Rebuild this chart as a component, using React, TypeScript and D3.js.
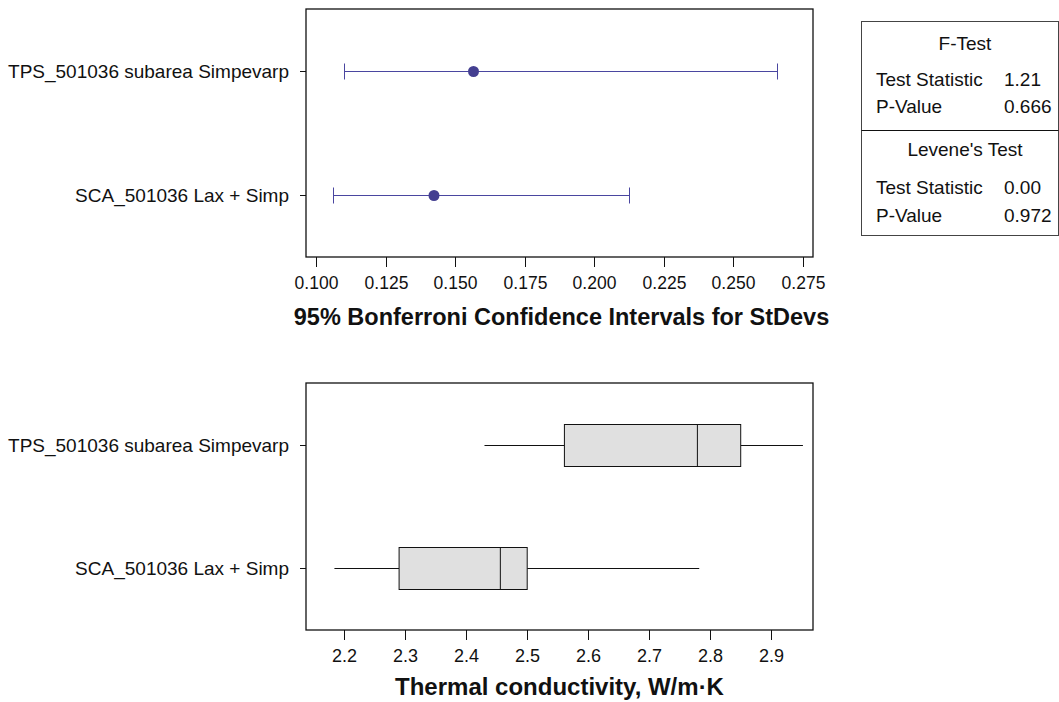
import * as d3 from 'd3';

const groups = ['TPS_501036 subarea Simpevarp', 'SCA_501036 Lax + Simp'];

// 95% Bonferroni CIs for StDev
const ciLower = [0.1102, 0.1062];
const sigma = [0.1566, 0.1424];
const ciUpper = [0.2657, 0.2125];
const ciTicks = [0.1, 0.125, 0.15, 0.175, 0.2, 0.225, 0.25, 0.275];

// boxplot of thermal conductivity
const whiskerLow = [2.43, 2.184];
const q1 = [2.561, 2.29];
const median = [2.779, 2.456];
const q3 = [2.85, 2.5];
const whiskerHigh = [2.952, 2.782];
const tcTicks = [2.2, 2.3, 2.4, 2.5, 2.6, 2.7, 2.8, 2.9];

const testRows = [
  { header: 'F-Test', stat: '1.21', p: '0.666' },
  { header: "Levene's Test", stat: '0.00', p: '0.972' },
];

const W = 1059;
const H = 702;
const font = '"Liberation Sans", Arial, Helvetica, sans-serif';
const ink = '#111';
const ciColor = '#4a46a0';
const dotColor = '#443f91';

const plotLeft = 306;
const plotRight = 813;

export default function App() {
  // top panel
  const topY0 = 9, topY1 = 257;
  const xCi = d3.scaleLinear().domain([0.09641, 0.27859]).range([plotLeft, plotRight]);
  const yTop = d3.scalePoint<string>().domain(groups).range([topY0, topY1]).padding(0.5);

  // bottom panel
  const botY0 = 383, botY1 = 630;
  const xTc = d3.scaleLinear().domain([2.1374, 2.9685]).range([plotLeft, plotRight]);
  const yBot = d3.scalePoint<string>().domain(groups).range([botY0, botY1]).padding(0.5);
  const boxHalf = 21;

  const fmt3 = d3.format('.3f');
  const fmt1 = d3.format('.1f');

  const yAxis = (y: d3.ScalePoint<string>) =>
    groups.map(g => (
      <g key={g} transform={`translate(${plotLeft},${Math.round(y(g)!) + 0.5})`}>
        <line x1={-6} x2={0} stroke={ink} />
        <text x={-17} dy="0.35em" textAnchor="end" fontSize={19}>{g}</text>
      </g>
    ));

  const xAxis = (x: d3.ScaleLinear<number, number>, ticks: number[], y: number, f: (n: number) => string, fs: number) =>
    ticks.map(t => (
      <g key={t} transform={`translate(${Math.round(x(t)) + 0.5},${y})`}>
        <line y1={0} y2={10} stroke={ink} />
        <text y={32} textAnchor="middle" fontSize={fs}>{f(t)}</text>
      </g>
    ));

  // table
  const tX0 = 861.5, tX1 = 1058.5, tY0 = 21.5, tY1 = 235.5, tDiv = 130.5;
  const headerX = 965, labelX = 876, valueX = 1004;
  const blockBase = [50, 155.7];

  return (
    <svg width={W} height={H} style={{ position: 'absolute', left: 0, top: 0, background: '#fff' }}
         fontFamily={font} fill={ink}>
      {/* top: confidence intervals */}
      <rect x={plotLeft} y={topY0} width={plotRight - plotLeft} height={topY1 - topY0}
            fill="none" stroke={ink} strokeWidth={1.3} />
      {yAxis(yTop)}
      {xAxis(xCi, ciTicks, topY1, fmt3, 17.5)}
      {groups.map((g, i) => {
        const cy = Math.round(yTop(g)!) + 0.5;
        const lo = Math.round(xCi(ciLower[i])) + 0.5;
        const hi = Math.round(xCi(ciUpper[i])) + 0.5;
        return (
          <g key={g} stroke={ciColor}>
            <line x1={lo} x2={hi} y1={cy} y2={cy} />
            <line x1={lo} x2={lo} y1={cy - 8} y2={cy + 8} />
            <line x1={hi} x2={hi} y1={cy - 8} y2={cy + 8} />
            <circle cx={xCi(sigma[i])} cy={cy} r={5.5} fill={dotColor} stroke="none" />
          </g>
        );
      })}
      <text x={(plotLeft + plotRight) / 2 + 2} y={325} textAnchor="middle" fontSize={23.5} fontWeight="bold">
        95% Bonferroni Confidence Intervals for StDevs
      </text>

      {/* bottom: boxplot */}
      <rect x={plotLeft} y={botY0} width={plotRight - plotLeft} height={botY1 - botY0}
            fill="none" stroke={ink} strokeWidth={1.3} />
      {yAxis(yBot)}
      {xAxis(xTc, tcTicks, botY1, fmt1, 18)}
      {groups.map((g, i) => {
        const cy = Math.round(yBot(g)!) + 0.5;
        return (
          <g key={g} stroke={ink}>
            <line x1={xTc(whiskerLow[i])} x2={xTc(q1[i])} y1={cy} y2={cy} />
            <line x1={xTc(q3[i])} x2={xTc(whiskerHigh[i])} y1={cy} y2={cy} />
            <rect x={xTc(q1[i])} y={cy - boxHalf} width={xTc(q3[i]) - xTc(q1[i])} height={boxHalf * 2}
                  fill="#e0e0e0" />
            <line x1={xTc(median[i])} x2={xTc(median[i])} y1={cy - boxHalf} y2={cy + boxHalf} />
          </g>
        );
      })}
      <text x={(plotLeft + plotRight) / 2} y={695} textAnchor="middle" fontSize={24} fontWeight="bold">
        Thermal conductivity, W/m·K
      </text>

      {/* test results table */}
      <rect x={tX0} y={tY0} width={tX1 - tX0} height={tY1 - tY0} fill="none" stroke="#444" />
      <line x1={tX0} x2={tX1} y1={tDiv} y2={tDiv} stroke={ink} />
      {testRows.map((r, i) => {
        const b = blockBase[i];
        return (
          <g key={r.header} fontSize={19}>
            <text x={headerX} y={b} textAnchor="middle">{r.header}</text>
            <text x={labelX} y={b + (i === 0 ? 36 : 38.3)}>Test Statistic</text>
            <text x={valueX} y={b + (i === 0 ? 36 : 38.3)}>{r.stat}</text>
            <text x={labelX} y={b + (i === 0 ? 63 : 66.3)}>P-Value</text>
            <text x={valueX} y={b + (i === 0 ? 63 : 66.3)}>{r.p}</text>
          </g>
        );
      })}
    </svg>
  );
}
